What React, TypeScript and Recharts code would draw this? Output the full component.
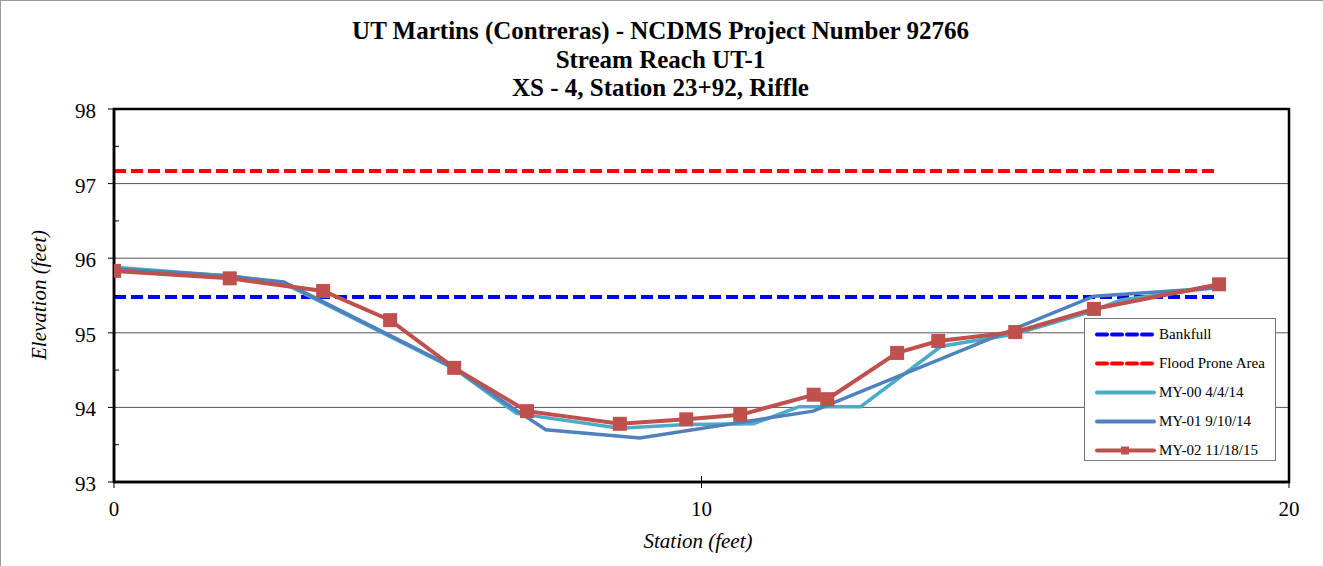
import React from 'react';
import { LineChart, Line, XAxis, YAxis, CartesianGrid, ReferenceArea } from 'recharts';

// survey stations (feet) and elevations (feet)
const stationMY00 = [0, 1.97, 2.9, 5.79, 6.85, 8.61, 9.74, 10.88, 11.66, 12.71, 14.08, 15.32, 16.58, 17.14, 18.67];
const elevMY00 = [95.88, 95.76, 95.66, 94.52, 93.92, 93.72, 93.77, 93.78, 94.01, 94.01, 94.82, 94.98, 95.27, 95.44, 95.6];

const stationMY01 = [0, 1.97, 2.89, 5.79, 6.81, 7.35, 8.95, 11.9, 16.68, 18.76];
const elevMY01 = [95.86, 95.76, 95.68, 94.53, 93.98, 93.7, 93.59, 93.95, 95.49, 95.6];

const stationMY02 = [0, 1.97, 3.56, 4.7, 5.79, 7.03, 8.61, 9.74, 10.66, 11.91, 12.14, 13.33, 14.03, 15.34, 16.68, 18.81];
const elevMY02 = [95.83, 95.73, 95.56, 95.17, 94.53, 93.95, 93.78, 93.84, 93.9, 94.17, 94.11, 94.73, 94.89, 95.01, 95.32, 95.65];

const levelStations = [0, 18.8];
const bankfullElev = 95.48;
const floodProneElev = 97.17;

const xTicks = [0, 10, 20];
const yTicks = [93, 93.5, 94, 94.5, 95, 95.5, 96, 96.5, 97, 97.5, 98];
const yGrid = [94, 95, 96, 97];

const titleLines = [
	'UT Martins (Contreras) - NCDMS Project Number 92766',
	'Stream Reach UT-1',
	'XS - 4, Station 23+92, Riffle'
];

const toPoints = (xs: number[], ys: number[]) => xs.map((x, i) => ({ x, y: ys[i] }));
const dataMY00 = toPoints(stationMY00, elevMY00);
const dataMY01 = toPoints(stationMY01, elevMY01);
const dataMY02 = toPoints(stationMY02, elevMY02);
const dataBankfull = levelStations.map(x => ({ x, y: bankfullElev }));
const dataFlood = levelStations.map(x => ({ x, y: floodProneElev }));

const W = 1323;
const H = 566;
const PLOT_LEFT = 113;
const PLOT_RIGHT = 1288;
const PLOT_TOP = 108;
const PLOT_BOTTOM = 481;
const FONT = "'Liberation Serif', 'Times New Roman', serif";

const RED = '#C0504D';
const BLUE = '#4F81BD';
const CYAN = '#4BACC6';

const YTick = (props: any) => {
	const { y, payload } = props;
	const v = payload.value as number;
	const major = Number.isInteger(v);
	return (
		<g>
			{major ? (
				<line x1={PLOT_LEFT - 6} x2={PLOT_LEFT} y1={y} y2={y} stroke="#000" />
			) : (
				<line x1={PLOT_LEFT} x2={PLOT_LEFT + 5} y1={y} y2={y} stroke="#000" />
			)}
			{major && (
				<text x={95} y={y + 2} textAnchor="end" dominantBaseline="central" fontFamily={FONT} fontSize={21} fill="#000">
					{v}
				</text>
			)}
		</g>
	);
};

const XTick = (props: any) => {
	const { x, payload } = props;
	return (
		<g>
			<line x1={x} x2={x} y1={PLOT_BOTTOM - 6} y2={PLOT_BOTTOM + 6} stroke="#000" />
			<text x={x} y={508} textAnchor="middle" dominantBaseline="central" fontFamily={FONT} fontSize={21} fill="#000">
				{payload.value}
			</text>
		</g>
	);
};

const SquareDot = (props: any) => {
	const { cx, cy, index } = props;
	if (cx == null || cy == null) return <g key={index} />;
	return <rect key={index} x={cx - 7} y={cy - 7} width={14} height={14} fill={RED} />;
};

const legendItems = [
	{ label: 'Bankfull', color: '#0000FF', dash: true, marker: false },
	{ label: 'Flood Prone Area', color: '#FF0000', dash: true, marker: false },
	{ label: 'MY-00 4/4/14', color: CYAN, dash: false, marker: false },
	{ label: 'MY-01 9/10/14', color: BLUE, dash: false, marker: false },
	{ label: 'MY-02 11/18/15', color: RED, dash: false, marker: true }
];

const ChartLegend = () => (
	<div
		style={{
			position: 'absolute',
			left: 1083,
			top: 317,
			width: 192,
			height: 143,
			border: '1px solid #777',
			background: '#fff',
			boxSizing: 'border-box'
		}}
	>
		{legendItems.map((item, i) => (
			<div key={item.label} style={{ position: 'absolute', left: 0, top: 1 + i * 29, height: 29, display: 'flex', alignItems: 'center' }}>
				<svg width={72} height={29} style={{ display: 'block' }}>
					<line
						x1={12}
						x2={69}
						y1={14.5}
						y2={14.5}
						stroke={item.color}
						strokeWidth={4}
						strokeDasharray={item.dash ? '10 5' : undefined}
						strokeLinecap="round"
					/>
					{item.marker && <rect x={36} y={10.5} width={8} height={8} fill={RED} />}
				</svg>
				<span style={{ fontFamily: FONT, fontSize: 15, color: '#000', whiteSpace: 'nowrap', marginLeft: 2 }}>{item.label}</span>
			</div>
		))}
	</div>
);

const App: React.FC = () => {
	return (
		<div
			style={{
				position: 'absolute',
				left: 0,
				top: 0,
				width: W,
				height: H,
				background: '#fff',
				borderTop: '1px solid #999',
				borderLeft: '1px solid #999',
				boxSizing: 'border-box',
				overflow: 'hidden'
			}}
		>
			<div style={{ position: 'absolute', left: 0, top: 0 }}>
				<LineChart
					width={W}
					height={H}
					margin={{ top: PLOT_TOP, right: W - PLOT_RIGHT, left: PLOT_LEFT - 60, bottom: H - PLOT_BOTTOM - 30 }}
				>
					<CartesianGrid vertical={false} horizontalValues={yGrid} stroke="#555" strokeWidth={1} />
					<XAxis
						type="number"
						dataKey="x"
						domain={[0, 20]}
						ticks={xTicks}
						height={30}
						allowDataOverflow
						axisLine={{ stroke: '#000', strokeWidth: 2.5 }}
						tickLine={false}
						tick={<XTick />}
						interval={0}
					/>
					<YAxis
						type="number"
						domain={[93, 98]}
						ticks={yTicks}
						width={60}
						allowDataOverflow
						axisLine={{ stroke: '#000', strokeWidth: 2.5 }}
						tickLine={false}
						tick={<YTick />}
						interval={0}
					/>
					<ReferenceArea x1={0} x2={20} y1={93} y2={98} fill="none" stroke="#000" strokeWidth={2.5} />
					<Line
						data={dataBankfull}
						dataKey="y"
						name="Bankfull"
						stroke="#0000FF"
						strokeWidth={4}
						strokeDasharray="12 5"
						dot={false}
						isAnimationActive={false}
					/>
					<Line
						data={dataFlood}
						dataKey="y"
						name="Flood Prone Area"
						stroke="#FF0000"
						strokeWidth={4}
						strokeDasharray="12 5"
						dot={false}
						isAnimationActive={false}
					/>
					<Line
						data={dataMY00}
						dataKey="y"
						name="MY-00 4/4/14"
						stroke={CYAN}
						strokeWidth={3.5}
						dot={false}
						isAnimationActive={false}
					/>
					<Line
						data={dataMY01}
						dataKey="y"
						name="MY-01 9/10/14"
						stroke={BLUE}
						strokeWidth={3.5}
						dot={false}
						isAnimationActive={false}
					/>
					<Line
						data={dataMY02}
						dataKey="y"
						name="MY-02 11/18/15"
						stroke={RED}
						strokeWidth={4}
						dot={<SquareDot />}
						isAnimationActive={false}
					/>
				</LineChart>
			</div>

			{titleLines.map((t, i) => (
				<div
					key={t}
					style={{
						position: 'absolute',
						left: 0,
						width: W - 4,
						top: 16 + i * 28.5,
						textAlign: 'center',
						fontFamily: FONT,
						fontWeight: 'bold',
						fontSize: 25,
						lineHeight: '28px',
						color: '#000',
						whiteSpace: 'nowrap'
					}}
				>
					{t}
				</div>
			))}

			<div
				style={{
					position: 'absolute',
					left: 38 - 100,
					top: 294 - 13,
					width: 200,
					height: 26,
					lineHeight: '26px',
					textAlign: 'center',
					transform: 'rotate(-90deg)',
					fontFamily: FONT,
					fontStyle: 'italic',
					fontSize: 21,
					color: '#000'
				}}
			>
				Elevation (feet)
			</div>
			<div
				style={{
					position: 'absolute',
					left: 697 - 100,
					top: 540 - 13,
					width: 200,
					height: 26,
					lineHeight: '26px',
					textAlign: 'center',
					fontFamily: FONT,
					fontStyle: 'italic',
					fontSize: 21,
					color: '#000'
				}}
			>
				Station (feet)
			</div>

			<ChartLegend />
		</div>
	);
};

export default App;
